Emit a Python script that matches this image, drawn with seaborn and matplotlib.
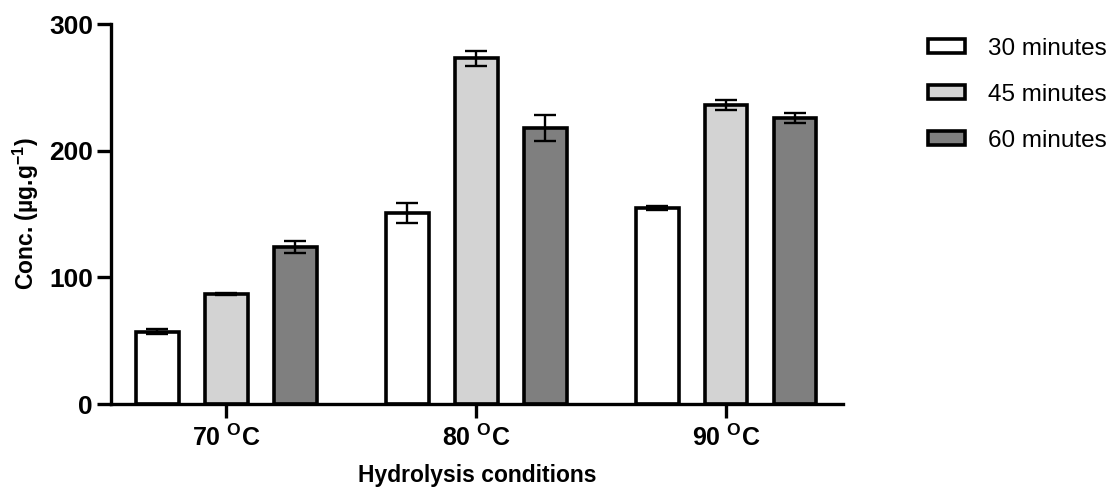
import matplotlib
matplotlib.use("Agg")
import matplotlib.pyplot as plt
import seaborn as sns
import pandas as pd
import numpy as np

# ---- data ----
temps = ["70 $^{\\mathrm{O}}$C", "80 $^{\\mathrm{O}}$C", "90 $^{\\mathrm{O}}$C"]
times = ["30 minutes", "45 minutes", "60 minutes"]
conc_30 = [57, 151, 155]
err_30 = [2, 8, 1.5]
conc_45 = [87, 273, 236]
err_45 = [1, 6, 4]
conc_60 = [124, 218, 226]
err_60 = [5, 10, 4]
colors = ["#FFFFFF", "#D3D3D3", "#7F7F7F"]

means = [conc_30, conc_45, conc_60]
errs = [err_30, err_45, err_60]

rows = []
for t, vals in zip(times, means):
    for c, v in zip(temps, vals):
        rows.append({"temp": c, "time": t, "conc": v})
df = pd.DataFrame(rows)

sns.set_style("ticks")
plt.rcParams["font.family"] = ["Liberation Sans", "DejaVu Sans"]
plt.rcParams["mathtext.fontset"] = "custom"
plt.rcParams["mathtext.rm"] = "Liberation Sans:bold"
plt.rcParams["mathtext.bf"] = "Liberation Sans:bold"
plt.rcParams["mathtext.it"] = "Liberation Sans:bold"
plt.rcParams["text.color"] = "black"
plt.rcParams["axes.labelcolor"] = "black"
plt.rcParams["xtick.color"] = "black"
plt.rcParams["ytick.color"] = "black"
plt.rcParams["axes.edgecolor"] = "black"

fig = plt.figure(figsize=(11.17, 4.87), dpi=100)
ax = fig.add_axes([0.0994, 0.1704, 0.7547 - 0.0994, 0.9507 - 0.1704])

sns.barplot(data=df, x="temp", y="conc", hue="time", order=temps, hue_order=times,
            palette=colors, edgecolor="black", linewidth=2.6, width=0.828, gap=0.377,
            errorbar=None, ax=ax, saturation=1)

for cont, e in zip(ax.containers, errs):
    xs = [p.get_x() + p.get_width() / 2 for p in cont.patches]
    hs = [p.get_height() for p in cont.patches]
    ax.errorbar(xs, hs, yerr=e, fmt="none", ecolor="black", elinewidth=1.7,
                capsize=8, capthick=1.7, zorder=5)

ax.set_ylim(0, 300)
ax.set_yticks([0, 100, 200, 300])
ax.set_xlim(-0.46, 2.468)
sns.despine(ax=ax)
for s in ["left", "bottom"]:
    ax.spines[s].set_linewidth(2.4)
    ax.spines[s].set_color("black")
ax.tick_params(axis="y", length=10, width=2.4, labelsize=19, pad=3, colors="black")
ax.tick_params(axis="x", length=10, width=2.4, labelsize=18, pad=5, colors="black")
for lab in ax.get_yticklabels() + ax.get_xticklabels():
    lab.set_fontweight("bold")

ax.set_xlabel("Hydrolysis conditions", fontsize=16.5, fontweight="bold", labelpad=9)
ax.set_ylabel("Conc. (µg.g$^{-1}$)", fontsize=16.5, fontweight="bold", labelpad=6)

handles, labels = ax.get_legend_handles_labels()
ax.legend(handles, labels, loc="upper left", bbox_to_anchor=(0.831, 0.922),
          bbox_transform=fig.transFigure, frameon=False, fontsize=17.5,
          handlelength=1.52, handleheight=0.5, handletextpad=0.95,
          labelspacing=0.98, borderpad=0, borderaxespad=0)

fig.savefig("out.png", dpi=100)
